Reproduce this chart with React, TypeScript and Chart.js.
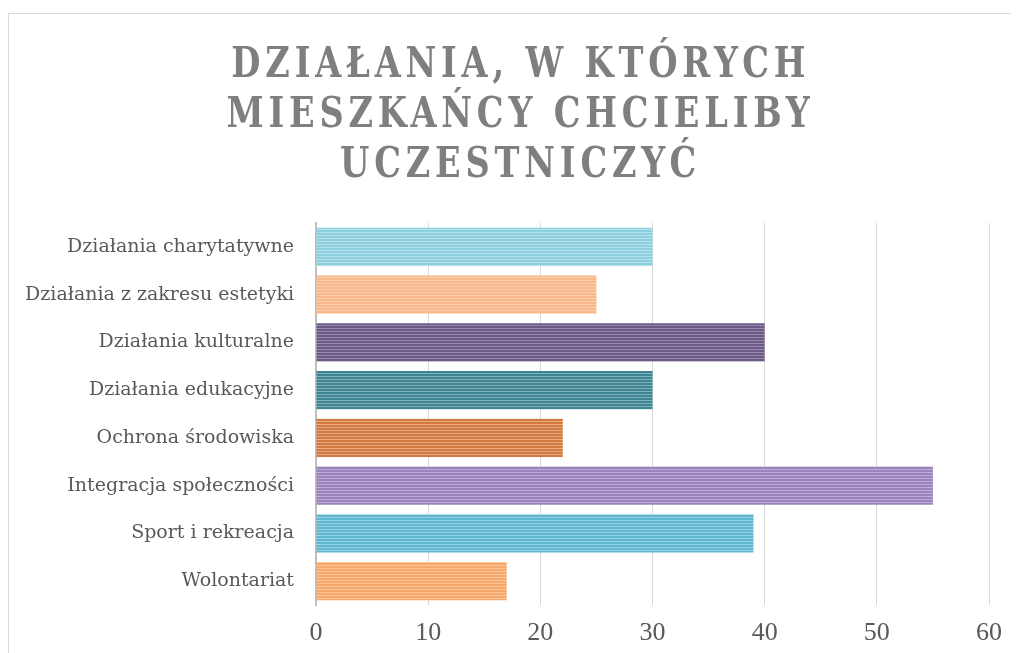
import React, { useEffect, useRef } from "react";
import { Chart, registerables } from "chart.js";

Chart.register(...registerables);

const titleLines = ["DZIAŁANIA, W KTÓRYCH", "MIESZKAŃCY CHCIELIBY", "UCZESTNICZYĆ"];

const categories = [
  "Działania charytatywne",
  "Działania z zakresu estetyki",
  "Działania kulturalne",
  "Działania edukacyjne",
  "Ochrona środowiska",
  "Integracja społeczności",
  "Sport i rekreacja",
  "Wolontariat",
];

const values = [30, 25, 40, 30, 22, 55, 39, 17];

const baseColors = ["#8ccfdf", "#f9b88a", "#6d5a87", "#3d8593", "#d07a40", "#9a84bb", "#5eb7cf", "#f7a868"];
const lightColors = ["#b6e1eb", "#fbd0b0", "#978aab", "#80b1bb", "#e6aa80", "#bcabd4", "#95d1e1", "#fac59b"];

const xTicks = [0, 10, 20, 30, 40, 50, 60];

function makePattern(base: string, light: string): CanvasPattern | string {
  const c = document.createElement("canvas");
  c.width = 4;
  c.height = 3;
  const g = c.getContext("2d");
  if (!g) return base;
  g.fillStyle = base;
  g.fillRect(0, 0, 4, 2);
  g.fillStyle = light;
  g.fillRect(0, 2, 4, 1);
  const p = g.createPattern(c, "repeat");
  return p || base;
}

export default function App() {
  const ref = useRef<HTMLCanvasElement | null>(null);

  useEffect(() => {
    if (!ref.current) return;
    const fills = baseColors.map((b, i) => makePattern(b, lightColors[i]));
    const chart = new Chart(ref.current, {
      type: "bar",
      data: {
        labels: categories,
        datasets: [
          {
            data: values,
            backgroundColor: fills as any,
            borderWidth: 0,
            barPercentage: 0.8,
            categoryPercentage: 1,
          },
        ],
      },
      options: {
        indexAxis: "y",
        animation: false,
        responsive: false,
        maintainAspectRatio: false,
        layout: { padding: { top: 209, right: 30, bottom: 0, left: 0 } },
        plugins: {
          legend: { display: false },
          title: { display: false },
          tooltip: { enabled: false },
        },
        scales: {
          x: {
            min: 0,
            max: 60,
            afterBuildTicks: (axis: any) => {
              axis.ticks = xTicks.map((v) => ({ value: v }));
            },
            afterFit: (axis: any) => {
              axis.height = 48;
            },
            grid: { color: "#d9d9d9", lineWidth: 1, drawTicks: false },
            border: { display: false },
            ticks: {
              padding: 13,
              color: "#595959",
              font: { family: "'Liberation Serif', serif", size: 26 },
            },
          },
          y: {
            afterFit: (axis: any) => {
              axis.width = 307;
            },
            grid: { display: false, drawTicks: false },
            border: { display: true, color: "#bfbfbf", width: 2 },
            ticks: {
              padding: 22,
              color: "#595959",
              font: { family: "'DejaVu Serif'", size: 19 },
            },
          },
        },
      },
    });
    return () => chart.destroy();
  }, []);

  return (
    <div
      style={{
        position: "relative",
        marginTop: 5,
        width: 1011,
        height: 640,
        borderLeft: "1px solid #d9d9d9",
        borderTop: "1px solid #d9d9d9",
        boxSizing: "border-box",
        overflow: "hidden",
      }}
    >
      <canvas ref={ref} width={1010} height={639} style={{ display: "block" }} />
      <div
        style={{
          position: "absolute",
          top: 24,
          left: 14,
          right: 0,
          textAlign: "center",
          fontFamily: "'DejaVu Serif', serif",
          fontWeight: "bold",
          fontSize: 42,
          lineHeight: "50px",
          color: "#7f7f7f",
        }}
      >
        {titleLines.map((l, i) => (
          <div key={i}>
            <span
              style={{
                display: "inline-block",
                letterSpacing: "6px",
                transform: "scaleX(0.8)",
                transformOrigin: "50% 50%",
                whiteSpace: "nowrap",
              }}
            >
              {l}
            </span>
          </div>
        ))}
      </div>
    </div>
  );
}
